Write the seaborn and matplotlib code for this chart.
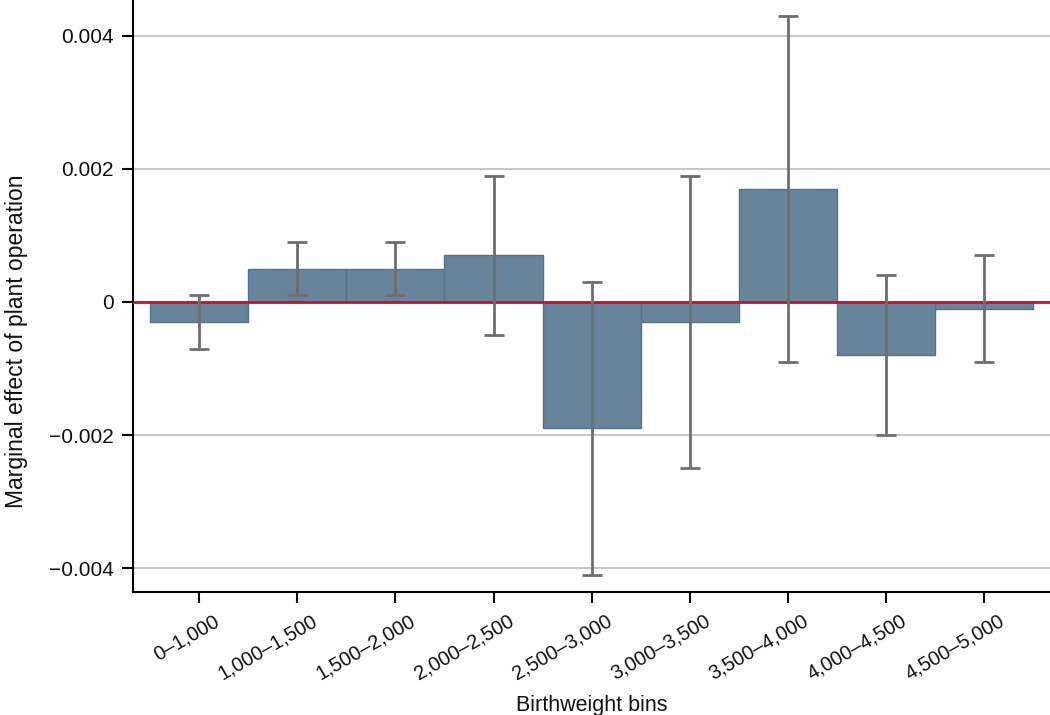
import numpy as np
import pandas as pd
import matplotlib
matplotlib.use("Agg")
import matplotlib.pyplot as plt
import matplotlib.transforms as mtransforms
import seaborn as sns

# ----------------------------------
# Data
# ----------------------------------
bins = ["0–1,000", "1,000–1,500", "1,500–2,000", "2,000–2,500", "2,500–3,000",
        "3,000–3,500", "3,500–4,000", "4,000–4,500", "4,500–5,000"]
effect = [-0.0003, 0.0005, 0.0005, 0.0007, -0.0019, -0.0003, 0.0017, -0.0008, -0.0001]
ci_low = [-0.0007, 0.0001, 0.0001, -0.0005, -0.0041, -0.0025, -0.0009, -0.0020, -0.0009]
ci_high = [0.0001, 0.0009, 0.0009, 0.0019, 0.0003, 0.0019, 0.0043, 0.0004, 0.0007]

df = pd.DataFrame({"bin": bins, "effect": effect, "lo": ci_low, "hi": ci_high})

sns.set_theme(style="white")
plt.rcParams["font.family"] = ["Liberation Sans", "DejaVu Sans"]

fig = plt.figure(figsize=(10.5, 7.15), dpi=100)
ax = fig.add_axes([0.127, 0.172, 0.873, 0.828])

sns.barplot(data=df, x="bin", y="effect", color="#68849a", saturation=1,
            width=1.0, edgecolor="#4f7490", linewidth=1.0, ax=ax, zorder=2)

ax.axhline(0, color="#c8102e", lw=2, zorder=3)

yerr = [df["effect"] - df["lo"], df["hi"] - df["effect"]]
ax.errorbar(np.arange(len(df)), df["effect"], yerr=yerr, fmt="none",
            ecolor="#6e6e6e", elinewidth=2, capsize=7, capthick=2, zorder=4)

ax.set_xlim(-0.67, 8.67)
ax.set_ylim(-0.00436, 0.00454)
ax.set_yticks([-0.004, -0.002, 0, 0.002, 0.004])
ax.set_yticklabels(["\u22120.004", "\u22120.002", "0", "0.002", "0.004"])
ax.yaxis.grid(True, color="#c8c8c8", lw=1.5, zorder=0)
ax.set_axisbelow(True)

for s in ["top", "right"]:
    ax.spines[s].set_visible(False)
for s in ["left", "bottom"]:
    ax.spines[s].set_color("black")
    ax.spines[s].set_linewidth(1.5)

ax.tick_params(axis="both", direction="out", length=8, width=1.5,
               color="black", labelcolor="#111111")
ax.tick_params(axis="y", left=True, pad=6, labelsize=15)
ax.tick_params(axis="x", bottom=True, pad=6, labelsize=14.5)

shift = mtransforms.ScaledTranslation(0.14, 0, fig.dpi_scale_trans)
for lab in ax.get_xticklabels():
    lab.set_rotation(30)
    lab.set_ha("right")
    lab.set_rotation_mode("anchor")
    lab.set_transform(lab.get_transform() + shift)

ax.set_xlabel("Birthweight bins", fontsize=15.5, color="#111111", labelpad=8)
ax.set_ylabel("Marginal effect of plant operation", fontsize=16.5, color="#111111")
ax.yaxis.set_label_coords(-0.115, 0.424)

fig.savefig("out.png", dpi=100)
